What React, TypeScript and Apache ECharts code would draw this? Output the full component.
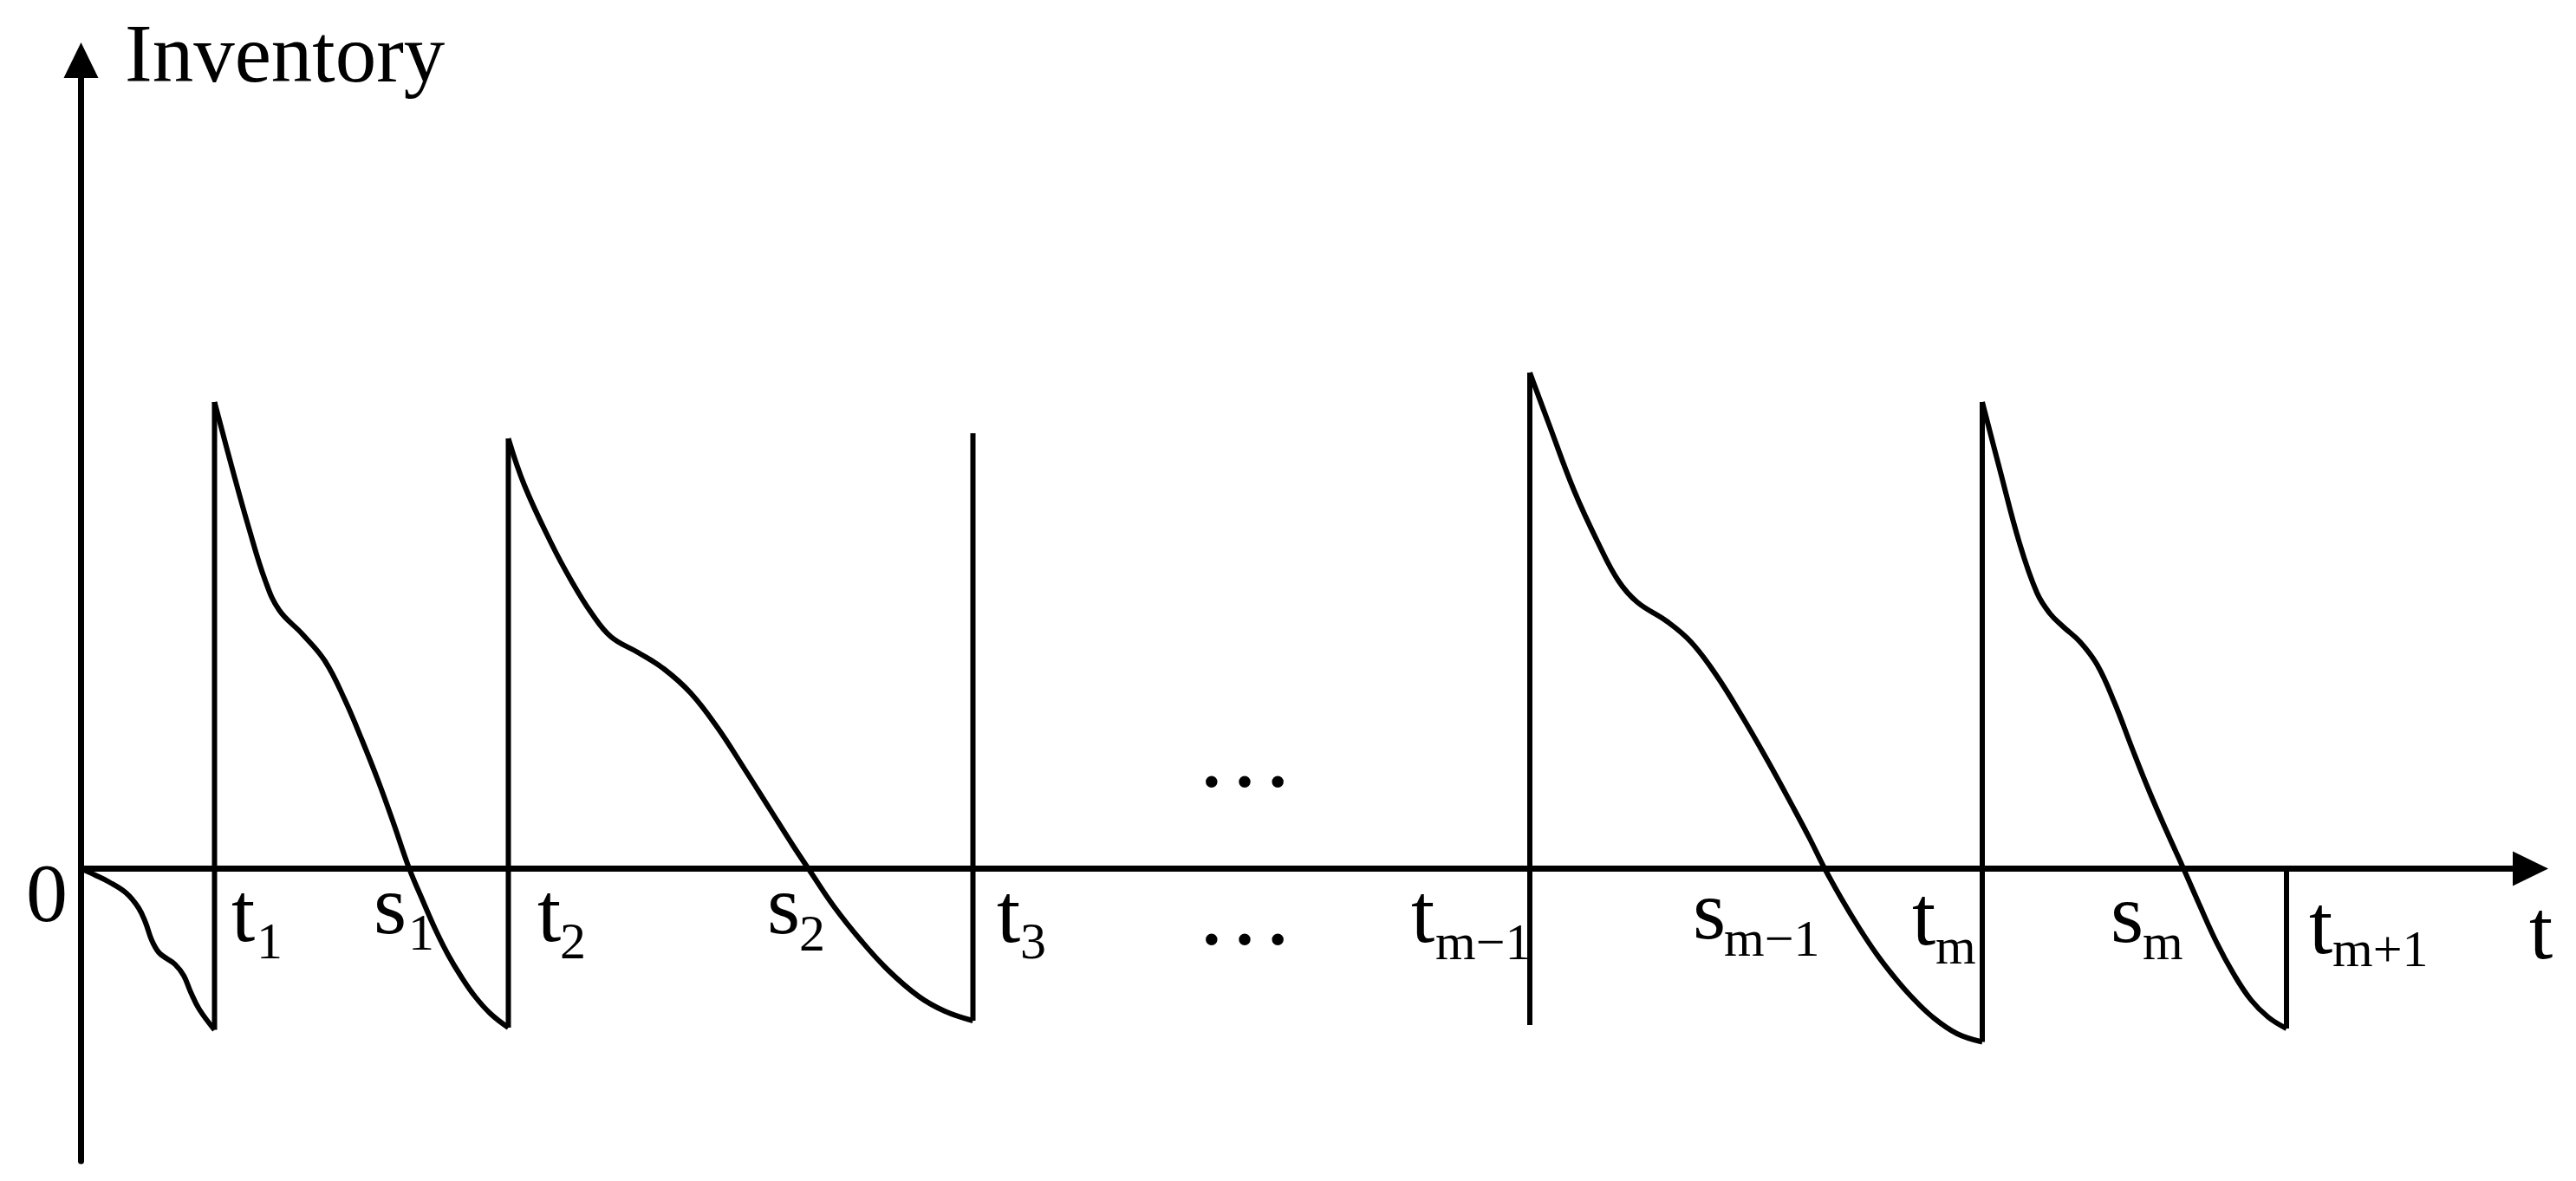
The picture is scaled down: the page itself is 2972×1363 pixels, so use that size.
import React, { useEffect, useRef } from "react";
import * as echarts from "echarts";

// ---- axis extents (time t, inventory level) ----
const T_MIN = 0;
const T_MAX = 282.6;
const INV_MIN = -33.75;
const INV_MAX = 93.3;

// ---- inventory curves, one per replenishment cycle: [t, inventory] ----
const cycle0 = [
  [0, 0], [1.65, -0.75], [3.25, -1.55], [5.25, -2.85], [6.65, -4.55], [7.45, -6.25],
  [8.15, -8.25], [8.95, -9.65], [9.85, -10.35], [10.85, -11.05], [11.85, -12.35],
  [12.65, -14.25], [13.65, -16.25], [15.4, -18.6],
];
const cycle1 = [
  [15.4, 53.85], [17.45, 46.15], [19.35, 39.35], [21.25, 33.25], [22.85, 29.85],
  [25.55, 27.05], [28.15, 23.95], [30.45, 19.45], [32.45, 14.75], [34.35, 9.95],
  [36.05, 5.25], [37.85, 0.05], [39.45, -3.75], [40.85, -6.95], [42.35, -9.95],
  [43.85, -12.45], [45.45, -14.75], [47.25, -16.75], [49.3, -18.35],
];
const cycle2 = [
  [49.3, 49.65], [51.15, 44.25], [54.25, 37.55], [56.55, 33.25], [58.85, 29.55],
  [61.15, 26.75], [64.25, 24.95], [67.25, 23.05], [70.35, 20.25], [73.45, 16.25],
  [76.45, 11.65], [79.55, 6.75], [82.15, 2.65], [84.15, -0.35], [86.85, -4.35],
  [89.95, -8.25], [93.15, -11.75], [96.65, -14.75], [99.65, -16.45], [102.9, -17.55],
];
const cycleM1 = [
  [167.15, 57.25], [169.45, 51.05], [172.25, 43.65], [175.05, 37.55], [177.35, 33.25],
  [179.55, 30.75], [182.95, 28.55], [185.75, 26.15], [188.65, 22.35], [191.65, 17.55],
  [194.65, 12.35], [197.65, 6.85], [199.45, 3.45], [201.15, 0.05], [203.15, -3.55],
  [205.15, -6.85], [207.15, -9.85], [209.15, -12.45], [211.15, -14.75], [213.65, -17.15],
  [216.45, -19.05], [219.35, -20.0],
];
const cycleM = [
  [219.35, 53.85], [221.35, 46.15], [223.65, 37.55], [225.65, 31.85], [227.15, 29.45],
  [228.65, 27.95], [230.65, 26.15], [232.65, 23.45], [234.65, 19.05], [236.65, 13.85],
  [238.65, 8.85], [240.65, 4.25], [242.55, 0.05], [244.35, -4.05], [246.35, -8.45],
  [248.35, -12.15], [250.35, -15.15], [252.35, -17.15], [254.45, -18.45],
];

// ---- replenishment jumps at t1, t2, t3, t(m-1), t(m), t(m+1) ----
const jumpT = [15.4, 49.3, 102.9, 167.15, 219.35, 254.45];
const jumpLow = [-18.6, -18.35, -17.55, -18.05, -20.0, -18.45];
const jumpHigh = [53.85, 49.65, 50.25, 57.25, 53.85, 0];

// ---- texts ----
const axisTitleText = ["Inventory"];
const axisTitlePos = [[5.05, 90.85]];
const originText = ["0"];
const originPos = [[-6.35, -6.05]];
const symbolText = ["t", "s", "t", "s", "t", "t", "s", "t", "s", "t", "t"];
const symbolPos = [
  [17.35, -8.35], [33.75, -7.45], [52.65, -8.35], [79.15, -7.45], [105.65, -8.45],
  [153.45, -8.45], [185.95, -8.05], [211.25, -8.75], [234.15, -8.45], [257.05, -9.75],
  [282.45, -10.35],
];
const subText = ["1", "1", "2", "2", "3", "m\u22121", "m\u22121", "m", "m", "m+1"];
const subPos = [
  [20.25, -10.35], [37.75, -9.35], [55.25, -10.35], [82.85, -9.45], [108.35, -10.35],
  [156.25, -10.45], [189.55, -10.05], [213.95, -10.95], [237.85, -10.45], [259.75, -11.25],
];
const ellipsisText = ["\u2026", "\u2026"];
const ellipsisPos = [[134.25, 9.55], [134.25, -8.65]];

const SERIF = "'Liberation Serif', 'Times New Roman', serif";
const CENTRAL_SHIFT = 0.3375; // distance from alphabetic baseline to central baseline, in em

function textLayer(name: string, texts: string[], pos: number[][], fontSize: number, align = "left") {
  return {
    type: "custom",
    name,
    coordinateSystem: "cartesian2d",
    silent: true,
    clip: false,
    z: 5,
    data: pos,
    encode: { x: 0, y: 1 },
    renderItem: (params: any, api: any) => {
      const i = params.dataIndex;
      const p = api.coord(pos[i]);
      return {
        type: "text",
        x: p[0],
        y: p[1] - CENTRAL_SHIFT * fontSize,
        style: {
          text: texts[i],
          fontSize,
          fontFamily: SERIF,
          fill: "#000",
          align,
          verticalAlign: "middle",
        },
      };
    },
  };
}

function curveSeries(data: number[][]) {
  return {
    type: "line",
    data,
    smooth: 0.4,
    symbol: "none",
    silent: true,
    lineStyle: { color: "#000", width: 6 },
    z: 3,
  };
}

export default function App() {
  const ref = useRef<HTMLDivElement>(null);

  useEffect(() => {
    if (!ref.current) return;
    const chart = echarts.init(ref.current, undefined, { renderer: "svg" });

    const axisCommon = {
      type: "value",
      axisTick: { show: false },
      axisLabel: { show: false },
      splitLine: { show: false },
    };

    const verticals = jumpT.map((t, i) => ({
      type: "line",
      data: [[t, jumpLow[i]], [t, jumpHigh[i]]],
      symbol: "none",
      silent: true,
      lineStyle: { color: "#000", width: 6 },
      z: 3,
    }));

    chart.setOption({
      animation: false,
      backgroundColor: "#ffffff",
      grid: { left: 93.5, right: 52.5, top: 69.5, bottom: 23, outerBoundsMode: "none" },
      xAxis: {
        ...axisCommon,
        min: T_MIN,
        max: T_MAX,
        axisLine: {
          show: true,
          onZero: true,
          symbol: ["none", "triangle"],
          symbolSize: [40, 41],
          lineStyle: { color: "#000", width: 7 },
        },
      },
      yAxis: {
        ...axisCommon,
        min: INV_MIN,
        max: INV_MAX,
        axisLine: {
          show: true,
          symbol: ["none", "triangle"],
          symbolSize: [40, 41],
          lineStyle: { color: "#000", width: 7 },
        },
      },
      series: [
        curveSeries(cycle0),
        curveSeries(cycle1),
        curveSeries(cycle2),
        curveSeries(cycleM1),
        curveSeries(cycleM),
        ...verticals,
        textLayer("axis title", axisTitleText, axisTitlePos, 95),
        textLayer("origin", originText, originPos, 96),
        textLayer("symbols", symbolText, symbolPos, 98),
        textLayer("subscripts", subText, subPos, 60),
        textLayer("ellipsis", ellipsisText, ellipsisPos, 114, "center"),
      ],
    });

    return () => chart.dispose();
  }, []);

  return (
    <div
      ref={ref}
      style={{ position: "absolute", left: 0, top: 0, width: 2972, height: 1363, background: "#fff" }}
    />
  );
}
